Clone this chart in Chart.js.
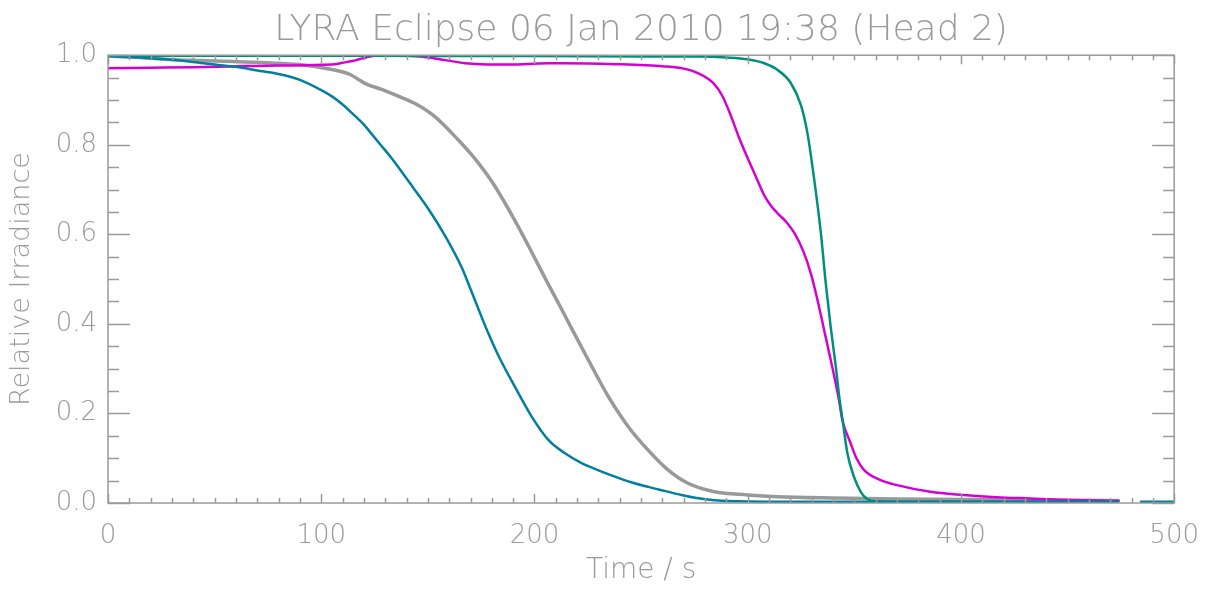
<!DOCTYPE html>
<html>
<head>
<meta charset="utf-8">
<script src="https://cdn.jsdelivr.net/npm/chart.js@4.4.1/dist/chart.umd.min.js"></script>
<style>
  html, body { margin: 0; padding: 0; background: #fff; }
  #wrap { width: 1217px; height: 590px; }
</style>
</head>
<body>
<div id="wrap"><canvas id="c" width="1217" height="590"></canvas></div>
<script>
// time (s) and relative irradiance for each LYRA channel
const tBlue = [0, 10, 20, 30, 40, 50, 60, 70, 80, 90, 100, 105, 110, 115, 120, 124, 128, 132, 136, 142.7, 150.5, 158.3, 166, 170, 174, 178, 183, 191, 198.7, 206.5, 214.3, 222.1, 230, 237.7, 245, 253.3, 261, 268.8, 276, 284.4, 295, 320, 360, 400, 440, 474, 479, 484, 500];
const irrBlue = [0.998, 0.996, 0.993, 0.99, 0.985, 0.979, 0.974, 0.966, 0.958, 0.945, 0.922, 0.908, 0.89, 0.868, 0.845, 0.822, 0.799, 0.776, 0.751, 0.707, 0.655, 0.595, 0.525, 0.478, 0.43, 0.383, 0.33, 0.258, 0.193, 0.141, 0.111, 0.089, 0.073, 0.059, 0.047, 0.036, 0.027, 0.018, 0.011, 0.006, 0.004, 0.003, 0.003, 0.003, 0.003, 0.003, null, 0.003, 0.003];

const tGrey = [0, 15, 30, 45, 58.5, 75, 89.7, 105, 113, 121, 128.6, 136.4, 144, 152, 158, 164, 170.7, 180, 189.4, 197.2, 205, 212.8, 217.4, 225.2, 234.6, 243.9, 253.3, 262.6, 272, 284.4, 300, 314, 340, 370, 400, 440, 474];
const irrGrey = [0.998, 0.995, 0.99, 0.988, 0.986, 0.983, 0.979, 0.968, 0.958, 0.936, 0.923, 0.908, 0.892, 0.868, 0.842, 0.812, 0.777, 0.718, 0.643, 0.574, 0.502, 0.432, 0.39, 0.32, 0.238, 0.171, 0.118, 0.074, 0.044, 0.025, 0.018, 0.014, 0.011, 0.009, 0.008, 0.006, 0.005];

const tMagenta = [0, 20, 40, 58.5, 80, 105, 110, 114.6, 117.8, 121, 125.5, 141, 152, 167.6, 183, 195, 206.5, 214, 237.7, 261, 270, 276.6, 284, 288, 292, 296, 300, 304, 308, 311, 314, 318, 322, 326, 329.6, 332.7, 335.8, 338.9, 342.8, 344.4, 348.3, 351, 354.5, 362.3, 370, 385.7, 401.2, 416.8, 432.4, 448, 474.5];
const irrMagenta = [0.971, 0.972, 0.973, 0.975, 0.977, 0.979, 0.983, 0.987, 0.991, 0.995, 0.999, 0.999, 0.994, 0.982, 0.979, 0.98, 0.982, 0.982, 0.98, 0.975, 0.97, 0.96, 0.937, 0.91, 0.866, 0.815, 0.77, 0.727, 0.685, 0.663, 0.647, 0.628, 0.602, 0.563, 0.513, 0.454, 0.387, 0.32, 0.23, 0.185, 0.133, 0.1, 0.074, 0.051, 0.04, 0.025, 0.018, 0.013, 0.01, 0.007, 0.005];

const tGreen = [0, 50, 100, 150, 200, 250, 276.6, 290, 300, 307.8, 314, 320.2, 325, 328, 331.2, 334.3, 336.6, 338.9, 341.3, 343.1, 344.5, 346.7, 349.8, 353, 356, 360, 380, 420, 474];
const irrGreen = [0.999, 0.999, 0.999, 0.998, 0.998, 0.997, 0.997, 0.995, 0.991, 0.982, 0.967, 0.938, 0.888, 0.826, 0.722, 0.603, 0.491, 0.394, 0.305, 0.23, 0.185, 0.112, 0.059, 0.025, 0.009, 0.004, 0.003, 0.003, 0.003];

const xTickLabels = [0, 100, 200, 300, 400, 500];
const yTickLabels = [0.0, 0.2, 0.4, 0.6, 0.8, 1.0];

const axisGrey = '#9a9a9a';
const textGrey = '#9a9a9a';
const fontFamily = "'DejaVu Sans', sans-serif";

const pts = (xs, ys) => xs.map((x, i) => ({ x, y: ys[i] }));

// IDL-style box with inward major/minor ticks on all four sides
const boxTicks = {
  id: 'boxTicks',
  afterDatasetsDraw(chart) {
    const { ctx, chartArea: a, scales } = chart;
    const xs = scales.x, ys = scales.y;
    ctx.save();
    ctx.strokeStyle = axisGrey;
    ctx.lineWidth = 1.5;
    ctx.strokeRect(a.left, a.top, a.right - a.left, a.bottom - a.top);
    ctx.beginPath();
    for (let v = 0; v <= 500; v += 10) {
      const px = Math.round(xs.getPixelForValue(v)) + 0.5;
      const len = v % 100 === 0 ? 9 : 5;
      ctx.moveTo(px, a.bottom); ctx.lineTo(px, a.bottom - len);
      ctx.moveTo(px, a.top); ctx.lineTo(px, a.top + len);
    }
    for (let i = 0; i <= 20; i++) {
      const py = Math.round(ys.getPixelForValue(i * 0.05)) + 0.5;
      const len = i % 4 === 0 ? 22 : 11;
      ctx.moveTo(a.left, py); ctx.lineTo(a.left + len, py);
      ctx.moveTo(a.right, py); ctx.lineTo(a.right - len, py);
    }
    ctx.stroke();
    ctx.restore();
  }
};

const ctx = document.getElementById('c').getContext('2d');
new Chart(ctx, {
  type: 'line',
  data: {
    datasets: [
      { label: 'Ch1', data: pts(tBlue, irrBlue), borderColor: '#00809e', borderWidth: 2.5, order: 0 },
      { label: 'Ch2', data: pts(tGreen, irrGreen), borderColor: '#008f7c', borderWidth: 2.5, order: 1 },
      { label: 'Ch3', data: pts(tMagenta, irrMagenta), borderColor: '#d400d4', borderWidth: 2.5, order: 2 },
      { label: 'Ch4', data: pts(tGrey, irrGrey), borderColor: '#999999', borderWidth: 3.5, order: 3 },
    ],
  },
  options: {
    responsive: false,
    animation: false,
    spanGaps: false,
    elements: {
      point: { radius: 0 },
      line: { cubicInterpolationMode: 'monotone', fill: false },
    },
    layout: { padding: { left: 0, right: 39, top: 0, bottom: 0 } },
    plugins: {
      legend: { display: false },
      tooltip: { enabled: false },
      title: {
        display: true,
        text: 'LYRA Eclipse 06 Jan 2010 19:38 (Head 2)',
        color: textGrey,
        fullSize: false,
        font: { family: fontFamily, size: 36, weight: '200' },
        padding: { top: 9, bottom: 3 },
      },
    },
    scales: {
      x: {
        type: 'linear',
        min: 0,
        max: 500,
        grid: { display: false, drawTicks: false },
        border: { display: false },
        afterBuildTicks: (s) => { s.ticks = xTickLabels.map((v) => ({ value: v })); },
        afterFit: (s) => { s.height = 87; },
        ticks: {
          color: textGrey,
          padding: 18,
          maxRotation: 0,
          font: { family: fontFamily, size: 26, weight: '200' },
        },
        title: {
          display: true,
          text: 'Time / s',
          color: textGrey,
          font: { family: fontFamily, size: 28, weight: '200' },
          padding: { top: 0, bottom: 2 },
        },
      },
      y: {
        min: 0,
        max: 1,
        grid: { display: false, drawTicks: false },
        border: { display: false },
        afterBuildTicks: (s) => { s.ticks = yTickLabels.map((v) => ({ value: v })); },
        afterFit: (s) => { s.width = 108; },
        ticks: {
          color: textGrey,
          padding: 11,
          callback: (v) => v.toFixed(1),
          font: { family: fontFamily, size: 26, weight: '200' },
        },
        title: {
          display: true,
          text: 'Relative Irradiance',
          color: textGrey,
          font: { family: fontFamily, size: 27, weight: '200' },
          padding: { top: 6, bottom: 0 },
        },
      },
    },
  },
  plugins: [boxTicks],
});
</script>
</body>
</html>
